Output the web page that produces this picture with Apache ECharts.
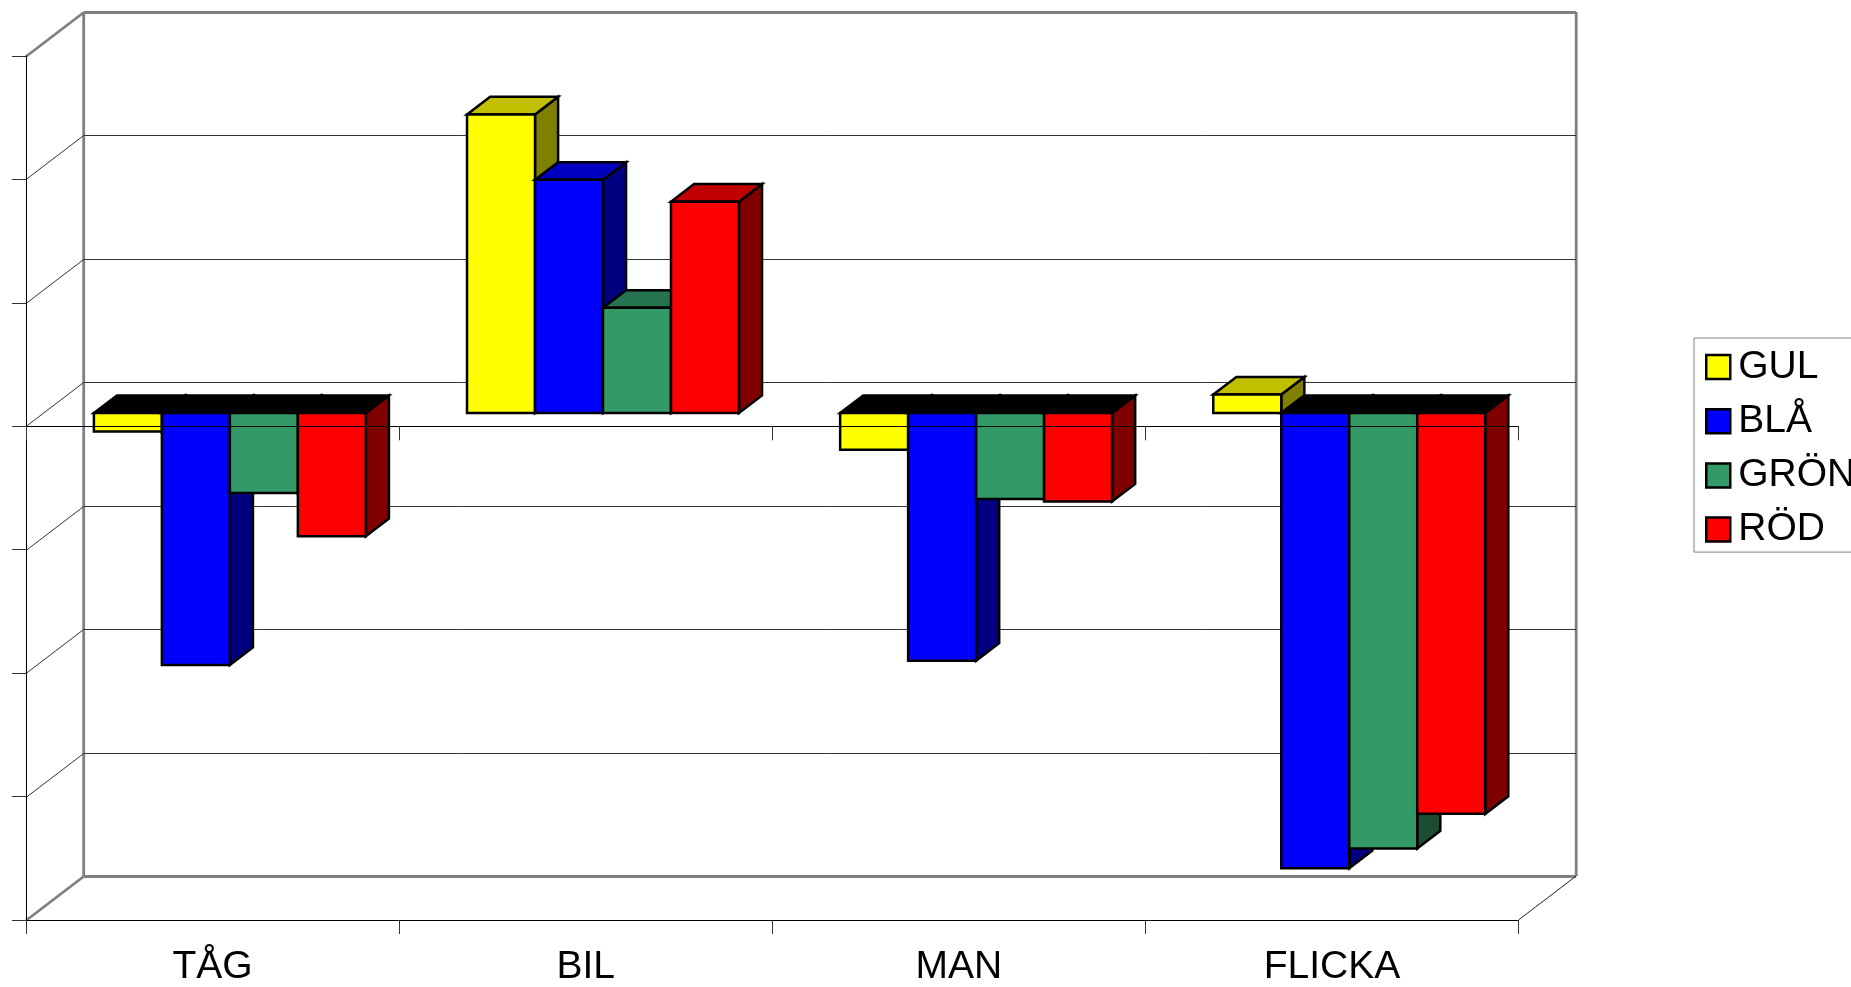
<!DOCTYPE html>
<html>
<head>
<meta charset="utf-8">
<style>html,body{margin:0;padding:0;background:#fff;overflow:hidden}#c{width:1851px;height:987px}</style>
<script src="https://cdn.jsdelivr.net/npm/echarts@6/dist/echarts.min.js"></script>
</head>
<body>
<div id="c"></div>
<script>
var categories = ['TÅG', 'BIL', 'MAN', 'FLICKA'];
var seriesNames = ['GUL', 'BLÅ', 'GRÖN', 'RÖD'];
var gul  = [-1.5, 24.2, -2.97, 1.5];
var bla  = [-20.4, 18.9, -20.07, -36.87];
var gron = [-6.47, 8.53, -6.97, -35.27];
var rod  = [-9.97, 17.13, -7.17, -32.47];
var yTicks = [30, 20, 10, 0, -10, -20, -30, -40];

var frontColors = ['#ffff00', '#0000ff', '#339966', '#ff0000'];
var topColors   = ['#c0c000', '#0000c0', '#267350', '#c00000'];
var sideColors  = ['#808000', '#000080', '#1a4d33', '#800000'];

var DX = 57.7, DY = 44;
var barFrac = 0.1822;
var FRONT = 0.3, DEPTH = 0.4;

function poly(points, fill) {
  return { type: 'polygon', shape: { points: points }, style: { fill: fill, stroke: '#000', lineWidth: 2.5, lineJoin: 'miter' } };
}

function barRender(si) {
  return function (params, api) {
    var cat = api.value(0), val = api.value(1);
    var band = api.size([1, 0])[0];
    var w = band * barFrac;
    var cx = api.coord([cat, 0])[0];
    var y0 = api.coord([cat, 0])[1] - DY * FRONT;
    var yv = api.coord([cat, val])[1] - DY * FRONT;
    var xl = cx + (si - 2) * w + DX * FRONT;
    var xr = xl + w;
    var ox = DX * DEPTH, oy = DY * DEPTH;
    var topY = Math.min(y0, yv);
    var botY = Math.max(y0, yv);
    var topFill = val < 0 ? '#000000' : topColors[si];
    return {
      type: 'group',
      children: [
        poly([[xr, topY], [xr + ox, topY - oy], [xr + ox, botY - oy], [xr, botY]], sideColors[si]),
        poly([[xl, topY], [xl + ox, topY - oy], [xr + ox, topY - oy], [xr, topY]], topFill),
        poly([[xl, topY], [xr, topY], [xr, botY], [xl, botY]], frontColors[si])
      ]
    };
  };
}

function frameRender(params, api) {
  var v = api.value(0);
  var cs = params.coordSys;
  var x0 = cs.x, x1 = cs.x + cs.width;
  var y = Math.round(api.coord([0, v])[1]) + 0.5;
  var yTop = cs.y, yBot = cs.y + cs.height;
  var isEdge = v === yTicks[0] || v === yTicks[yTicks.length - 1];
  var wall = { stroke: '#808080', lineWidth: 2.8 };
  var thin = { stroke: '#333333', lineWidth: 1 };
  var ch = [];
  ch.push({ type: 'line', shape: { x1: x0 + DX, y1: y - DY, x2: x1 + DX, y2: y - DY }, style: isEdge ? wall : thin });
  ch.push({ type: 'line', shape: { x1: x0, y1: y, x2: x0 + DX, y2: y - DY }, style: isEdge ? wall : thin });
  if (v === yTicks[0]) {
    ch.push({ type: 'line', shape: { x1: x0 + DX, y1: yTop - DY, x2: x0 + DX, y2: yBot - DY }, style: wall });
    ch.push({ type: 'line', shape: { x1: x1 + DX, y1: yTop - DY, x2: x1 + DX, y2: yBot - DY }, style: wall });
  }
  if (v === yTicks[yTicks.length - 1]) {
    ch.push({ type: 'line', shape: { x1: x1, y1: yBot, x2: x1 + DX, y2: yBot - DY }, style: { stroke: '#222', lineWidth: 1 } });
  }
  return { type: 'group', children: ch };
}

var valueLists = [gul, bla, gron, rod];
var series = [{
  type: 'custom', name: 'frame', z: 1, silent: true, clip: false,
  renderItem: frameRender,
  encode: { y: 0 },
  data: yTicks.map(function (v) { return [v]; })
}];
seriesNames.forEach(function (n, si) {
  series.push({
    type: 'custom', name: n, z: 2, silent: true, clip: false,
    renderItem: barRender(si),
    itemStyle: { color: frontColors[si] },
    encode: { x: 0, y: 1 },
    data: valueLists[si].map(function (v, i) { return [i, v]; })
  });
});

var chart = echarts.init(document.getElementById('c'), null, { renderer: 'canvas' });
chart.setOption({
  animation: false,
  backgroundColor: '#fff',
  textStyle: { fontFamily: 'Liberation Sans' },
  grid: { left: 26, right: 332.5, top: 56, bottom: 64, containLabel: false },
  legend: {
    data: seriesNames, orient: 'vertical', left: 1694, top: 338,
    padding: [9.5, 80, 3, 11], itemGap: 15.2, itemWidth: 24, itemHeight: 24,
    icon: 'rect', selectedMode: false,
    borderColor: '#808080', borderWidth: 1, backgroundColor: '#fff',
    itemStyle: { borderColor: '#000', borderWidth: 2.5 },
    textStyle: { fontFamily: 'Liberation Sans', fontSize: 39, color: '#000', padding: [4, 0, 0, 3] }
  },
  xAxis: [{
    type: 'category', data: categories, position: 'bottom', z: 5,
    axisLine: { onZero: false, lineStyle: { color: '#000', width: 1 } },
    axisTick: { show: true, length: 14, lineStyle: { color: '#333', width: 1 } },
    axisLabel: { fontFamily: 'Liberation Sans', fontSize: 39, color: '#000', margin: 28, interval: 0 },
    splitLine: { show: false }
  }, {
    type: 'category', data: categories, position: 'bottom', z: 5,
    axisLine: { onZero: true, lineStyle: { color: '#000', width: 1 } },
    axisTick: { show: true, length: 14, lineStyle: { color: '#333', width: 1 } },
    axisLabel: { show: false },
    splitLine: { show: false }
  }],
  yAxis: {
    type: 'value', min: -40, max: 30, interval: 10, position: 'left', z: 5,
    axisLine: { show: true, onZero: false, lineStyle: { color: '#000', width: 1 } },
    axisTick: { show: true, length: 14, lineStyle: { color: '#333', width: 1 } },
    axisLabel: { show: false },
    splitLine: { show: false }
  },
  series: series
});
</script>
</body>
</html>
